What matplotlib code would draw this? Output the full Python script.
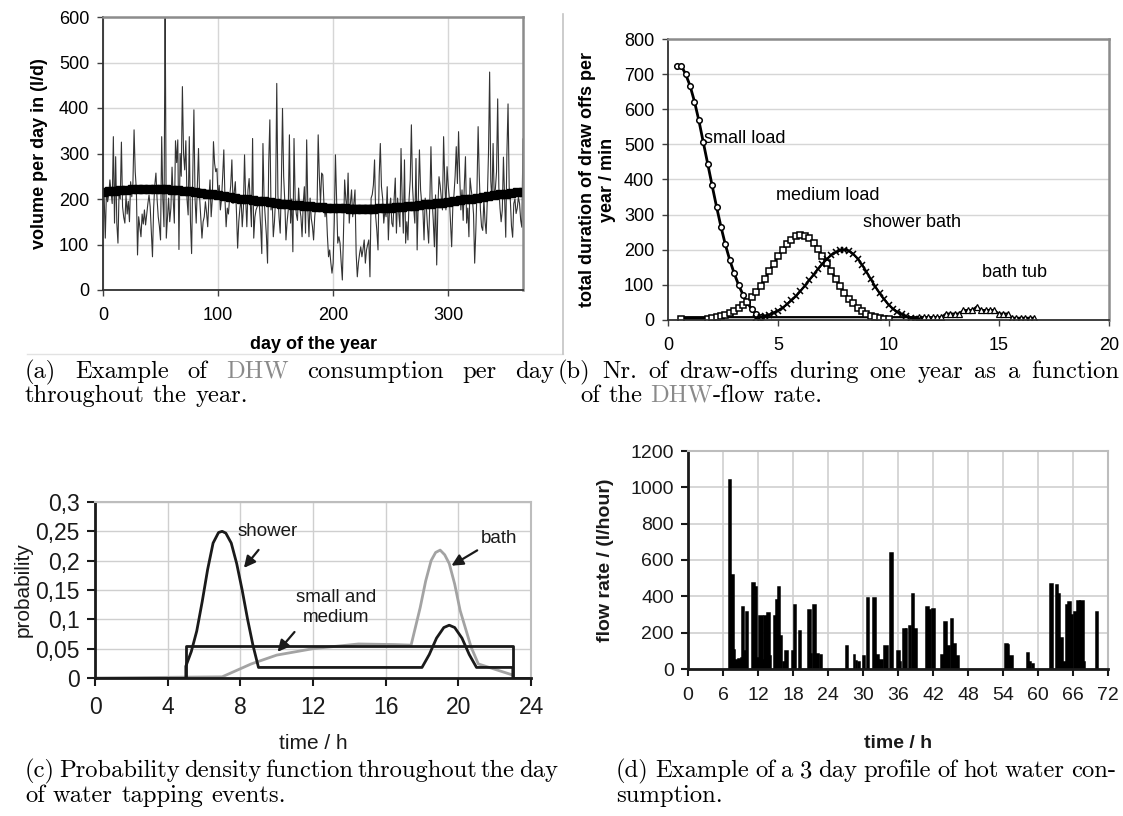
import matplotlib
matplotlib.use("Agg")
import matplotlib.pyplot as plt
from matplotlib.lines import Line2D

plt.rcParams['font.family'] = ['Liberation Sans', 'DejaVu Sans']

W, H = 1123, 816

# ---------------- (a) daily DHW volume ----------------
daily_volume = [
    205, 114, 220, 194, 210, 242, 215, 190, 337, 147,
    293, 147, 103, 220, 200, 325, 183, 160, 147, 209,
    167, 195, 150, 238, 205, 234, 352, 260, 220, 77,
    161, 140, 117, 167, 145, 176, 143, 167, 190, 209,
    183, 130, 73, 180, 231, 257, 200, 161, 140, 110,
    337, 200, 139, 640, 114, 160, 202, 150, 180, 270,
    200, 147, 328, 280, 330, 89, 300, 250, 447, 300,
    264, 328, 200, 165, 337, 150, 80, 250, 396, 200,
    147, 230, 311, 202, 160, 114, 150, 161, 194, 170,
    139, 200, 242, 161, 200, 326, 278, 260, 267, 202,
    230, 176, 200, 250, 308, 200, 139, 180, 167, 202,
    230, 286, 190, 215, 238, 170, 92, 150, 180, 202,
    139, 180, 297, 200, 139, 220, 245, 190, 139, 333,
    114, 160, 176, 183, 190, 183, 140, 80, 322, 200,
    161, 120, 59, 278, 374, 176, 200, 117, 150, 202,
    454, 209, 160, 125, 234, 399, 250,
    194, 110, 150, 176, 341, 147, 200, 84, 333, 200, 167, 153, 224,
    180, 161, 117, 190, 227, 125, 330, 180, 117, 202,
    157, 140, 110, 161, 190, 176, 341, 250, 190, 257,
    253, 190, 161, 183, 120, 73, 88, 60, 37, 59,
    150, 297, 200, 103, 117, 103, 60, 22, 125, 242,
    200, 176, 257, 147, 190, 220, 161, 190, 220, 80,
    29, 60, 80, 95, 73, 90, 110, 59, 88, 100,
    110, 29, 202, 210, 231, 286, 161, 130, 88, 250,
    322, 227, 202, 147, 176, 161, 227, 110, 180, 202,
    147, 139, 200, 246, 125, 202, 170, 139, 311, 200,
    125, 286, 103, 150, 110, 200, 242, 363, 227, 180,
    147, 289, 88, 200, 308, 220, 190, 176, 110, 202,
    183, 140, 103, 190, 315, 200, 153, 95, 209, 55,
    180, 249, 230, 202, 176, 337, 240, 176, 271, 230,
    202, 150, 95, 183, 209, 250, 315, 234, 348, 250,
    176, 220, 153, 230, 293, 147, 180, 117, 246, 220,
    202, 167, 59, 130, 220, 359, 250, 176, 139, 131,
    200, 150, 124, 200, 300, 479, 240, 197, 322, 200,
    223, 260, 420, 226, 180, 150, 175, 292, 200, 116,
    300, 409, 226, 197, 140, 116, 190, 200, 168, 180,
    204, 190, 153, 138, 332,
]
days = list(range(1, len(daily_volume) + 1))

trend_day = list(range(0, 366, 5))
trend_volume = [
    215, 217, 218, 219, 220, 221, 221, 222, 222, 222, 222, 221, 220, 219, 218,
    217, 216, 214, 212, 210, 208, 206, 204, 202, 200, 199, 197, 196, 195, 194,
    192, 190, 189, 187, 186, 185, 184, 183, 182, 181, 180, 180, 180, 179, 179,
    179, 179, 179, 180, 180, 181, 182, 183, 184, 185, 186, 188, 189, 191, 192,
    194, 195, 197, 199, 200, 202, 204, 206, 208, 210, 211, 213, 215, 216,
]

# ---------------- (b) draw-off duration vs flow rate ----------------
small_flow = [0.4, 0.6, 0.8, 1.0, 1.2, 1.4, 1.6, 1.8, 2.0, 2.2, 2.4, 2.6, 2.8,
              3.0, 3.2, 3.4, 3.6, 3.8, 4.0, 4.2]
small_dur = [722, 724, 700, 667, 622, 568, 506, 445, 383, 323, 266, 215, 171,
             133, 100, 72, 50, 30, 17, 8]

medium_flow = [0.6, 1.8, 2.0, 2.2, 2.4, 2.6, 2.8, 3.0, 3.2, 3.4, 3.6, 3.8, 4.0,
               4.2, 4.4, 4.6, 4.8, 5.0, 5.2, 5.4, 5.6, 5.8, 6.0, 6.2, 6.4, 6.6,
               6.8, 7.0, 7.2, 7.4, 7.6, 7.8, 8.0, 8.2, 8.4, 8.6, 8.8, 9.0, 9.2,
               9.4, 9.6, 9.8, 10.0]
medium_dur = [2, 4, 6, 8, 11, 15, 19, 25, 33, 42, 52, 65, 80, 98, 118, 140, 160,
              182, 200, 215, 228, 238, 243, 240, 233, 220, 203, 183, 162, 140,
              118, 97, 78, 61, 47, 35, 25, 17, 12, 8, 5, 3, 2]

shower_flow = [4.0, 4.2, 4.4, 4.6, 4.8, 5.0, 5.2, 5.4, 5.6, 5.8, 6.0, 6.2, 6.4,
               6.6, 6.8, 7.0, 7.2, 7.4, 7.6, 7.8, 8.0, 8.2, 8.4, 8.6, 8.8, 9.0,
               9.2, 9.4, 9.6, 9.8, 10.0, 10.2, 10.4, 10.6, 10.8, 11.0, 11.2, 11.4]
shower_dur = [6, 8, 11, 15, 21, 27, 35, 45, 56, 68, 82, 97, 113, 129, 145, 160,
              173, 185, 193, 198, 200, 197, 188, 175, 157, 137, 116, 95, 76, 59,
              44, 32, 23, 16, 10, 7, 4, 3]

bath_flow = [0.6, 11.4, 11.6, 11.8, 12.0, 12.2, 12.4, 12.6, 12.8, 13.0, 13.2,
             13.4, 13.6, 13.8, 14.0, 14.2, 14.4, 14.6, 14.8, 15.0, 15.2, 15.4,
             15.6, 15.8, 16.0, 16.2, 16.4, 16.6]
bath_dur = [8, 8, 8, 8, 8, 8, 8, 18, 18, 18, 18, 28, 28, 28, 38, 28, 28, 28, 28,
            18, 18, 18, 6, 6, 6, 6, 6, 6]

# ---------------- (c) probability density over the day ----------------
sm_t = [0, 5, 5, 23, 23, 24]
sm_p = [0, 0, 0.055, 0.055, 0, 0]
sh_t = [5.0, 5.0, 5.3, 5.6, 5.9, 6.2, 6.5, 6.8, 7.0, 7.2, 7.5, 7.8, 8.1, 8.4,
        8.7, 9.0, 18.0, 18.4, 18.8, 19.2, 19.5, 19.8, 20.2, 20.6, 21.0, 23.0, 23.0]
sh_p = [0, 0.02, 0.045, 0.08, 0.13, 0.185, 0.23, 0.248, 0.25, 0.247, 0.23,
        0.195, 0.15, 0.1, 0.055, 0.018, 0.018, 0.04, 0.068, 0.086, 0.09, 0.086,
        0.068, 0.04, 0.018, 0.018, 0]
ba_t = [0, 7.0, 8.6, 10.0, 12.0, 14.5, 16.5, 17.4, 17.9, 18.2, 18.5, 18.75,
        19.0, 19.25, 19.5, 19.8, 20.1, 20.7, 21.1, 22.0, 22.9]
ba_p = [0, 0.002, 0.024, 0.039, 0.05, 0.058, 0.057, 0.056, 0.12, 0.165, 0.2,
        0.214, 0.218, 0.21, 0.195, 0.16, 0.115, 0.053, 0.024, 0.015, 0.006]
c_yticks = [0, 0.05, 0.1, 0.15, 0.2, 0.25, 0.3]
c_yticklabels = ['0', '0,05', '0,1', '0,15', '0,2', '0,25', '0,3']
c_xticks = [0, 4, 8, 12, 16, 20, 24]

# ---------------- (d) 3 day profile ----------------
bar_start = [7.0, 7.4, 7.8, 8.1, 8.5, 9.0, 9.3, 9.6, 9.9, 11.0, 11.4, 11.8,
             12.2, 12.8, 13.1, 13.6, 14.0, 14.8, 15.1, 15.4, 15.8, 16.3, 16.7,
             17.8, 18.1, 19.0, 20.6, 21.0, 21.4, 22.0, 22.6, 27.1, 28.4, 28.8,
             29.2, 30.0, 30.6, 31.7, 32.3, 32.8, 33.6, 34.7, 35.8, 36.3, 36.8,
             37.3, 37.8, 38.4, 38.7, 40.8, 41.3, 41.8, 43.4, 43.9, 44.4, 45.0,
             45.4, 45.9, 54.3, 54.8, 55.1, 58.1, 58.4, 59.0, 62.1, 63.0, 63.4,
             63.7, 64.3, 64.8, 65.2, 65.6, 66.2, 66.6, 67.2, 67.8, 69.9]
bar_width = [0.4, 0.4, 0.3, 0.4, 0.5, 0.3, 0.3, 0.3, 0.4, 0.4, 0.4, 0.3,
             0.6, 0.3, 0.5, 0.4, 0.3, 0.3, 0.3, 0.4, 0.3, 0.4, 0.4,
             0.3, 0.4, 0.4, 0.4, 0.3, 0.5, 0.4, 0.3, 0.4, 0.3, 0.2,
             0.3, 0.3, 0.5, 0.5, 0.5, 0.7, 0.6, 0.4, 0.5, 0.2, 0.5,
             0.3, 0.4, 0.3, 0.6, 0.5, 0.4, 0.5, 0.4, 0.5, 0.5, 0.4,
             0.5, 0.5, 0.5, 0.3, 0.6, 0.3, 0.4, 0.4, 0.5, 0.4, 0.3,
             0.5, 0.5, 0.4, 0.4, 0.4, 0.4, 0.6, 0.6, 0.3, 0.4]
bar_flow = [1040, 516, 103, 50, 55, 60, 342, 100, 316, 474, 452, 60,
            292, 50, 292, 308, 70, 290, 378, 452, 180, 40, 100,
            100, 353, 207, 327, 85, 353, 85, 75, 125, 75, 45,
            40, 70, 391, 391, 75, 48, 125, 636, 100, 40, 222,
            220, 235, 411, 220, 342, 324, 330, 75, 259, 125, 277,
            140, 70, 140, 130, 70, 88, 40, 25, 470, 460, 411,
            170, 40, 350, 370, 300, 312, 376, 376, 37, 312]

# ---------------- captions ----------------
captions = [
    ("(a) Example of DHW consumption per day", 25, 554, 378),
    ("throughout the year.", 25, None, 402),
    ("(b) Nr. of draw-offs during one year as a function", 558, 1119, 378),
    ("of the DHW-flow rate.", 580, None, 402),
    ("(c) Probability density function throughout the day", 25, 558, 777),
    ("of water tapping events.", 25, None, 802),
    ("(d) Example of a 3 day profile of hot water con-", 616, 1116, 777),
    ("sumption.", 616, None, 802),
]

fig = plt.figure(figsize=(W / 100, H / 100), dpi=100)
fig.patch.set_facecolor('white')


def px_axes(l, t, r, b):
    return fig.add_axes([l / W, 1 - b / H, (r - l) / W, (b - t) / H])


def frame(ax, axis_col='#303030', axis_lw=1.3, box_col='#8c8c8c', box_lw=1.8):
    for s in ('top', 'right'):
        ax.spines[s].set_color(box_col)
        ax.spines[s].set_linewidth(box_lw)
    for s in ('left', 'bottom'):
        ax.spines[s].set_color(axis_col)
        ax.spines[s].set_linewidth(axis_lw)
    ax.set_axisbelow(True)


GRID = '#d6d6d6'

# ---- panel (a)
axa = px_axes(103, 17, 523, 290)
axa.plot(days, daily_volume, color='#333333', lw=0.8)
axa.plot(trend_day, trend_volume, color='black', lw=5.5, marker='s', ms=6,
         solid_capstyle='butt')
axa.set_xlim(0, 365)
axa.set_ylim(0, 600)
axa.set_xticks([0, 100, 200, 300])
axa.set_yticks(range(0, 601, 100))
axa.grid(True, color=GRID, lw=1)
frame(axa)
axa.tick_params(direction='out', length=4, width=1, color='#404040', labelsize=13)
axa.tick_params(axis='x', pad=8)
axa.tick_params(axis='y', pad=6)
axa.set_ylabel('volume per day in (l/d)', fontsize=13, fontweight='bold')
axa.set_xlabel('day of the year', fontsize=13, fontweight='bold')
axa.yaxis.set_label_coords(-0.15, 0.5)
axa.xaxis.set_label_coords(0.5, -0.2)
axa.xaxis.label.set_va('center')
axa.yaxis.label.set_va('center')
# light chart-area border of the original spreadsheet chart
fig.add_artist(Line2D([27 / W, 563 / W], [1 - 354 / H, 1 - 354 / H],
                      color='#e2e2e2', lw=1))
fig.add_artist(Line2D([563 / W, 563 / W], [1 - 14 / H, 1 - 354 / H],
                      color='#c4c4c4', lw=1.2))

# ---- panel (b)
axb = px_axes(668, 39, 1109, 320)
axb.plot(bath_flow, bath_dur, color='black', lw=1.6, marker='^', ms=4,
         mfc='white', mec='black', mew=0.9, markevery=list(range(1, len(bath_flow))))
axb.plot(small_flow, small_dur, color='black', lw=2, marker='o', ms=4,
         mfc='white', mec='black', mew=1.1)
axb.plot(medium_flow, medium_dur, color='black', lw=1.7, marker='s', ms=4,
         mfc='white', mec='black', mew=1.1)
axb.plot(shower_flow, shower_dur, color='black', lw=1.7, marker='x', ms=4.5,
         mew=1.1)
axb.set_xlim(0, 20)
axb.set_ylim(0, 800)
axb.set_xticks([0, 5, 10, 15, 20])
axb.set_yticks(range(0, 801, 100))
axb.yaxis.grid(True, color=GRID, lw=1)
frame(axb)
axb.tick_params(direction='out', length=4, width=1, color='#404040', labelsize=13)
axb.tick_params(axis='x', pad=8)
axb.tick_params(axis='y', pad=6)
axb.set_ylabel('total duration of draw offs per\nyear / min', fontsize=13,
               fontweight='bold', linespacing=1.2)
axb.yaxis.set_label_coords(-0.16, 0.5)
axb.yaxis.label.set_va('center')
for txt, x, y in [('small load', 1.64, 516), ('medium load', 4.91, 355),
                  ('shower bath', 8.84, 279), ('bath tub', 14.24, 136)]:
    axb.text(x, y, txt, fontsize=13, ha='left', va='center')

# ---- panel (c)
axc = px_axes(95, 502, 531, 678)
axc.plot(ba_t, ba_p, color='#a3a3a3', lw=2)
axc.plot(sh_t, sh_p, color='#1a1a1a', lw=2)
axc.plot(sm_t, sm_p, color='#1a1a1a', lw=2)
axc.set_xlim(0, 24)
axc.set_ylim(0, 0.3)
axc.set_xticks(c_xticks)
axc.set_yticks(c_yticks)
axc.set_yticklabels(c_yticklabels)
axc.grid(True, color='#cfcfcf', lw=1)
frame(axc, axis_col='#1a1a1a', axis_lw=2, box_col='#bdbdbd', box_lw=1.5)
axc.tick_params(direction='out', length=6, width=1.5, color='#1a1a1a',
                labelsize=16.5, labelcolor='#1a1a1a')
axc.tick_params(axis='x', pad=7)
axc.tick_params(axis='y', pad=5)
axc.set_ylabel('probability', fontsize=15, color='#1a1a1a')
axc.set_xlabel('time / h', fontsize=15, color='#1a1a1a')
axc.yaxis.set_label_coords(-0.165, 0.5)
axc.xaxis.set_label_coords(0.5, -0.37)
axc.xaxis.label.set_va('center')
axc.yaxis.label.set_va('center')
ap = dict(arrowstyle='-|>', color='#1a1a1a', lw=1.6, mutation_scale=17)
axc.text(7.82, 0.25, 'shower', fontsize=13.5, ha='left', va='center', color='#1a1a1a')
axc.annotate('', xy=(8.1, 0.184), xytext=(9.1, 0.222), arrowprops=ap)
axc.text(21.23, 0.2375, 'bath', fontsize=13.5, ha='left', va='center', color='#1a1a1a')
axc.annotate('', xy=(19.49, 0.189), xytext=(21.17, 0.22), arrowprops=ap)
axc.text(13.26, 0.12, 'small and\nmedium', fontsize=13.5, ha='center', va='center',
         color='#1a1a1a', linespacing=1.25)
axc.annotate('', xy=(9.95, 0.041), xytext=(11.08, 0.082), arrowprops=ap)

# ---- panel (d)
axd = px_axes(688, 451, 1108, 669)
axd.bar(bar_start, bar_flow, width=bar_width, align='edge', color='black',
        edgecolor='black', lw=1.1)
axd.set_xlim(0, 72)
axd.set_ylim(0, 1200)
axd.set_xticks(range(0, 73, 6))
axd.set_yticks(range(0, 1201, 200))
axd.grid(True, color='#cfcfcf', lw=1.2)
frame(axd, axis_col='#1a1a1a', axis_lw=2, box_col='#bdbdbd', box_lw=1.5)
axd.tick_params(direction='out', length=5, width=1.5, color='#1a1a1a',
                labelsize=14, labelcolor='#1a1a1a')
axd.tick_params(axis='x', pad=8)
axd.tick_params(axis='y', pad=5)
axd.set_ylabel('flow rate / (l/hour)', fontsize=14, fontweight='bold', color='#1a1a1a')
axd.set_xlabel('time / h', fontsize=14, fontweight='bold', color='#1a1a1a')
axd.yaxis.set_label_coords(-0.197, 0.5)
axd.xaxis.set_label_coords(0.5, -0.34)
axd.xaxis.label.set_va('center')
axd.yaxis.label.set_va('center')

# ---- captions (LaTeX-like serif, justified first lines)
renderer = fig.canvas.get_renderer()
CAP_FONT = 'cmr10'
GREY = '#8a8a8a'


def text_w(s, size):
    t = fig.text(0, 0, s, fontsize=size, family=CAP_FONT)
    w = t.get_window_extent(renderer=renderer).width
    t.remove()
    return w


def space_w(size):
    # TeX inter-word space of Computer Modern: 1/3 em
    return size * (100 / 72) / 3


def split_word(word):
    if 'DHW' in word:
        i = word.index('DHW')
        parts = [(word[:i], 'black'), ('DHW', GREY), (word[i + 3:], 'black')]
        return [p for p in parts if p[0]]
    return [(word, 'black')]


def natural_width(line, size):
    words = line.split()
    return sum(text_w(w, size) for w in words) + (len(words) - 1) * space_w(size)


ref_line, ref_x0, ref_x1, _ = captions[4]
# the reference line is typeset with slightly shrunk inter-word spaces
cap_size = 1.05 * 10 * (ref_x1 - ref_x0) / natural_width(ref_line, 10)


def draw_line(line, x0, x1, y, size):
    words = [split_word(w) for w in line.split()]
    widths = [[text_w(s, size) for s, _ in w] for w in words]
    total = sum(sum(ws) for ws in widths)
    if x1 is not None and len(words) > 1:
        gap = (x1 - x0 - total) / (len(words) - 1)
    else:
        gap = space_w(size)
    x = x0
    for w, ws in zip(words, widths):
        for (s, c), pw in zip(w, ws):
            fig.text(x / W, 1 - y / H, s, fontsize=size, family=CAP_FONT,
                     color=c, ha='left', va='baseline')
            x += pw
        x += gap


for line, x0, x1, y in captions:
    draw_line(line, x0, x1, y, cap_size)

fig.savefig('out.png', dpi=100)
